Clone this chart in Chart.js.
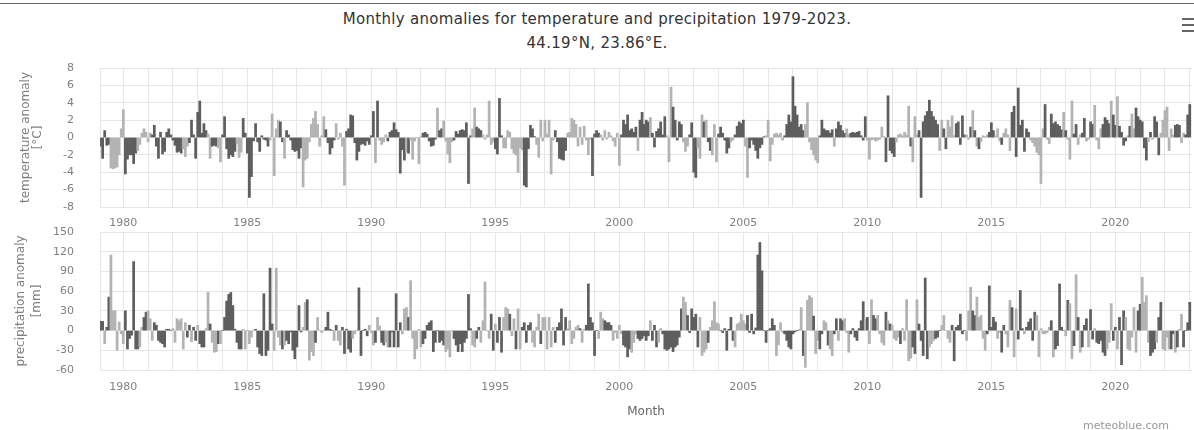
<!DOCTYPE html>
<html lang="en">
<head>
<meta charset="UTF-8" />
<title>Monthly anomalies for temperature and precipitation 1979-2023</title>
<script src="https://cdn.jsdelivr.net/npm/chart.js"></script>
<style>
  html, body { margin: 0; padding: 0; background: #fff; }
  body {
    width: 1194px; height: 430px; position: relative; overflow: hidden;
    font-family: 'DejaVu Sans', sans-serif;
  }
  #frame { position: absolute; left: 0; top: 3px; width: 1194px; border-top: 1px solid #666; }
  #title {
    position: absolute; left: 0; top: 7px; width: 1194px;
    text-align: center; color: #333; font-size: 15px; line-height: 24px; letter-spacing: 0.3px;
  }
  #menu { position: absolute; left: 1182px; top: 18px; width: 12px; }
  #menu span { display: block; height: 2px; background: #666; margin-bottom: 4px; }
  .panel { position: absolute; left: 0; width: 1194px; }
  #credit { position: absolute; left: 1083px; top: 419px; font-size: 11px; color: #999; }
</style>
</head>
<body>
  <div id="frame"></div>
  <div id="title">Monthly anomalies for temperature and precipitation 1979-2023.<br>44.19°N, 23.86°E.</div>
  <div id="menu"><span></span><span></span><span></span></div>
  <div class="panel" style="top:60px;height:175px;"><canvas id="tempChart" width="1194" height="175"></canvas></div>
  <div class="panel" style="top:225px;height:205px;"><canvas id="precChart" width="1194" height="205"></canvas></div>
  <div id="credit">meteoblue.com</div>

<script>
// monthly values, Jan 1979 .. Dec 2022, one row per year
const firstYear = 1979;
const labelYears = [1980, 1985, 1990, 1995, 2000, 2005, 2010, 2015, 2020];
const tempTicks = [-8, -6, -4, -2, 0, 2, 4, 6, 8];
const precTicks = [-60, -30, 0, 30, 60, 90, 120, 150];

// temperature anomaly [°C]
const tempAnom = [
  -1.0,-2.4,0.8,-0.9,-0.8,-3.5,-3.6,-3.5,-3.4,-2.0,1.0,3.2,     // 1979
  -4.2,-2.5,-2.0,-2.0,-3.0,-1.8,-1.5,-0.8,0.5,1.0,0.6,-0.5,     // 1980
  0.5,0.3,1.4,-1.0,-2.4,0.6,-1.9,-1.6,0.6,1.0,0.3,-0.3,         // 1981
  -0.9,-1.7,-1.6,-1.8,-1.3,-2.2,-1.0,-0.6,2.0,0.3,-2.4,2.9,     // 1982
  4.2,0.5,1.6,0.8,0.4,-2.4,-1.0,-0.9,-1.0,-1.2,-2.8,0.3,        // 1983
  2.4,-1.3,-2.4,-2.0,-2.2,-1.6,-0.7,-2.3,-1.7,2.2,0.5,-1.8,     // 1984
  -6.9,-4.5,-0.4,1.6,-0.5,-1.6,0.2,-0.2,-0.3,-1.0,-0.3,2.7,     // 1985
  -4.4,1.0,2.0,1.8,-0.5,-2.4,0.8,0.3,-0.3,-1.4,-1.6,-1.5,       // 1986
  -2.4,-1.2,-5.7,-2.6,-2.4,-0.5,1.5,2.2,3.0,1.5,-1.0,0.2,       // 1987
  2.4,0.9,-0.6,-1.9,-1.2,-0.3,1.6,-0.2,0.5,-1.0,-5.5,0.7,       // 1988
  1.0,2.6,2.5,-0.6,-2.6,-1.6,-0.8,-0.7,-0.9,-0.4,-0.8,0.2,      // 1989
  3.0,-2.9,4.2,-0.3,-0.8,-0.5,0.3,-0.4,0.6,0.8,1.7,0.9,         // 1990
  0.6,-4.1,-1.4,-2.6,-1.7,-1.8,-0.3,-2.5,-0.4,0.0,-3.0,0.1,     // 1991
  0.5,0.6,0.4,-0.4,-1.0,-0.9,-0.2,3.4,0.8,1.0,1.9,-0.4,         // 1992
  -1.9,-2.9,-0.5,-0.3,0.7,0.4,0.8,0.9,0.8,1.7,-5.3,0.2,         // 1993
  1.0,3.4,1.2,1.0,0.8,0.3,-0.2,0.3,4.2,-0.8,-0.5,-1.3,          // 1994
  -1.9,4.5,0.2,-1.2,-1.2,0.8,0.6,-1.3,-1.8,-2.0,-4.0,-1.2,      // 1995
  -1.4,-5.5,-5.7,-1.3,1.4,1.0,0.1,-0.8,-2.3,2.0,-0.4,2.0,       // 1996
  0.4,2.0,-4.2,-0.3,0.8,-0.5,-2.4,-2.5,-2.6,-1.5,0.5,0.6,       // 1997
  2.2,2.0,1.5,-1.0,1.2,-0.8,1.3,-0.3,-2.0,-0.2,-4.4,0.4,        // 1998
  0.8,0.5,0.3,-0.3,0.8,-0.2,0.6,0.2,-0.4,-1.0,0.5,-3.2,         // 1999
  0.3,2.0,1.5,2.6,0.8,1.0,0.6,1.2,-1.5,2.0,2.9,1.5,             // 2000
  2.0,1.8,2.3,0.5,-1.1,0.7,1.0,1.8,0.3,2.4,0.2,-2.8,            // 2001
  5.8,3.5,2.0,-0.3,1.8,1.5,-0.5,-1.6,-1.0,0.3,1.7,-4.0,         // 2002
  -4.6,-1.2,-2.4,2.6,1.8,2.0,-0.5,-1.5,-2.0,1.5,-2.8,0.4,       // 2003
  1.2,0.5,-0.3,-1.8,-1.2,-0.5,-0.3,0.3,1.3,1.8,1.6,2.0,         // 2004
  -1.0,-4.6,-1.2,-0.3,-0.8,-1.5,-2.4,-1.2,-0.8,0.1,0.2,2.0,     // 2005
  -2.7,-0.8,0.4,0.5,0.3,0.5,-0.3,0.2,1.5,2.6,1.8,7.0,           // 2006
  3.6,2.6,1.2,1.5,0.8,1.5,4.0,-0.5,-1.4,-2.0,-2.6,-2.9,         // 2007
  0.2,2.0,1.0,0.8,0.8,0.5,0.9,-1.0,1.0,1.8,1.4,0.8,             // 2008
  0.5,1.0,0.4,0.5,0.6,0.5,0.6,0.7,0.2,-0.3,2.4,-0.3,            // 2009
  -2.5,-0.3,-0.2,-0.4,-0.3,-0.2,1.2,0.1,-2.8,4.8,-1.5,-1.8,     // 2010
  -2.2,-0.5,0.3,0.4,0.2,0.6,0.3,3.6,-1.0,-2.8,2.4,0.3,          // 2011
  0.8,-6.9,1.8,2.5,3.0,4.3,3.0,2.4,2.0,1.5,-1.5,2.0,            // 2012
  1.0,-1.3,2.0,1.2,2.5,0.2,1.6,1.8,-0.8,2.5,0.3,0.3,            // 2013
  -0.2,1.2,3.1,0.8,-1.0,-1.3,-0.5,0.2,0.1,0.3,0.6,1.7,          // 2014
  0.8,0.2,1.0,-0.4,-0.8,0.5,1.0,0.3,-1.5,2.9,3.6,-2.2,          // 2015
  5.7,1.4,2.0,-1.6,1.0,0.6,-0.3,-0.6,-1.0,-1.7,-2.0,-5.3,       // 2016
  1.0,3.8,-0.2,-0.7,2.7,1.6,1.8,1.5,1.3,0.9,2.9,0.8,            // 2017
  -0.2,-2.5,4.2,0.4,1.5,-0.8,0.3,0.5,2.2,-0.4,-0.2,1.8,         // 2018
  1.5,3.7,-0.3,-1.3,1.0,1.5,2.3,2.0,1.6,4.2,2.6,1.4,            // 2019
  4.7,1.3,0.6,-0.9,-0.4,0.2,1.3,2.7,1.0,3.4,2.4,2.0,            // 2020
  1.8,-1.2,-2.6,-0.5,0.6,-0.2,2.4,1.8,-2.0,0.5,2.0,3.1,         // 2021
  3.5,-1.5,1.0,0.3,1.4,1.5,1.4,-0.6,0.5,0.3,2.6,3.8             // 2022
];
// D = dark bar group, L = light bar group
const tempGroup = [
  'DDDDDLLLLLLL','DDDDDDLLLLLL','LDDDDDDDDDDD','DDDDLLLDDDDD','DDDDLLDDDLLD',
  'DDDDDDLLLDDD','DDDDDDDDDDLL','LLLDDLDDDDDD','DDLLLLLLLLLL','LDDDDDLLLLLD',
  'DDDDDDDDDDDD','DLDLLLLDDDDD','DDDDLDLLLLLL','DDDDDDDLDDLL','LLLDDDDDDDDD',
  'LLDDDLLLLLLD','DDDLLLLLLLLL','LDDDDDDLLLLL','LLLLDDDDDDLL','LLLLLLLLLLDD',
  'DDLLLLLLLLLL','DDDDDDDDLDDD','DDLDDDDDDDLL','LDDDDDLLLDDD','DLLLDLDDLLLD',
  'DDDDDLLDDDDD','LLDDDDDDDDLL','LLLLLLLDDDDD','DDDDDLLLLLLL','DDDDDDDLDDDD',
  'DLLDDDDDDDDL','LLLLLLLLDDDD','DLLLLLLLDLLL','DDDDDDDDDDLL','DDLLLLDDDDDL',
  'LDLDLDLLLLDD','DLLLDLLLLDDD','DDDDDDLLLLLL','LDLLDDDDDDLD','LLLDDLLDDLLD',
  'DLLLLDDDDLDD','LDDDDLDLLDDD','DDDLDLDDDLLL','LLLLDDDLLDDD'
];

// precipitation anomaly [mm]
const precAnom = [
  14,14,-20,5,51,115,30,30,-30,13,-5,-20,          // 1979
  30,-28,-12,-7,105,-28,-28,-25,5,20,28,30,        // 1980
  18,-15,12,8,-15,-18,-20,-25,2,2,0,3,             // 1981
  -18,18,15,18,-28,12,-10,8,-17,5,-15,8,           // 1982
  -20,-25,-25,3,58,10,-18,-33,-32,-20,-20,0,       // 1983
  20,45,55,58,38,2,-18,-28,-28,2,-28,0,            // 1984
  -20,-10,0,2,-25,-35,-38,56,-38,-30,95,10,        // 1985
  -30,95,-10,-22,-28,-22,-15,-20,-2,-30,-43,-25,   // 1986
  38,-2,5,43,47,-45,-32,-38,-18,20,0,-3,           // 1987
  0,5,28,2,0,-15,8,-15,-22,5,-35,2,                // 1988
  -28,-33,-12,-5,0,65,-38,0,2,-8,8,-3,             // 1989
  -22,-18,20,7,-18,-22,-18,-25,-25,-2,-25,56,      // 1990
  -25,12,-5,33,35,20,76,-12,-43,-28,2,-25,         // 1991
  -20,-12,8,12,15,-32,-18,0,-18,-15,-22,-32,       // 1992
  -28,-40,0,-12,-22,-32,-20,-32,-18,-12,55,3,      // 1993
  -22,-25,-12,5,-18,15,74,0,-12,25,-30,10,         // 1994
  -18,20,-33,20,35,33,25,-8,18,-28,33,-28,         // 1995
  5,12,-18,8,12,-18,-25,5,25,-20,20,20,            // 1996
  -28,20,-25,5,-18,5,12,33,-22,20,3,15,            // 1997
  -20,-12,5,8,3,-18,2,8,71,20,12,-38,              // 1998
  0,-12,28,18,15,12,12,8,-15,-3,-12,8,             // 1999
  -5,-22,-25,-40,-28,-33,-18,-5,-12,-15,-12,-8,    // 2000
  -15,-8,15,-15,8,-25,-18,3,-5,-28,-30,-28,        // 2001
  -25,-32,-25,-22,-10,33,51,43,23,-3,33,20,        // 2002
  25,-25,20,-38,-33,-28,-18,5,15,44,12,10,         // 2003
  0,-3,3,-30,2,20,-15,-25,10,12,25,15,             // 2004
  10,23,-3,25,-5,4,115,134,91,0,-18,0,             // 2005
  3,18,8,-38,-22,12,-3,-5,-15,-25,-28,-5,          // 2006
  -2,0,2,35,-38,-56,46,53,50,22,-35,-15,           // 2007
  -28,-5,15,12,-22,-28,-38,-5,18,-15,18,15,        // 2008
  18,-3,-33,-5,3,-10,-15,3,15,44,18,20,            // 2009
  -20,47,23,18,23,-5,-18,-22,28,15,10,8,           // 2010
  -12,-15,-10,-20,3,-15,47,-46,-42,-25,-35,47,     // 2011
  10,-15,-38,80,-43,-25,-20,-15,-12,-10,0,8,       // 2012
  23,0,-12,-18,8,-46,5,8,25,-5,0,-15,              // 2013
  30,66,30,23,51,20,23,-12,-30,-5,68,5,            // 2014
  20,13,-12,-3,-33,8,-5,-25,46,35,-40,33,          // 2015
  -13,61,3,-5,5,13,18,-15,28,23,-40,3,             // 2016
  -5,-5,-3,5,15,-40,-28,-23,71,5,0,-8,             // 2017
  46,41,-43,-23,85,20,-33,-25,8,18,-25,32,         // 2018
  -13,3,-18,-20,-15,-33,-38,-28,-18,41,-15,5,      // 2019
  -28,20,-52,30,20,-28,-30,-10,35,-33,30,40,       // 2020
  81,43,53,-18,-38,-33,-28,-18,20,43,-28,-30,      // 2021
  -10,-28,-28,-5,-33,-25,2,25,-25,0,12,43          // 2022
];
const precGroup = [
  'DDLDDLLLLLLL','DDDDDDDLLDDL','LLDDDDDDDDDL','LLLLLLDDLDDL','DDDLLDLLLDLD',
  'DDDDDDDDDLLL','LLLDDDDDDDDD','LLLLDLDDDDDD','DDLLDLLLDLLL','LDDDDLDLLDDD',
  'DDLLLDDDDDLL','LDLLDDLLDDDD','DDLLLDLLLLLL','DDDDDDDDDDDL','LLLDDDDDDDDD',
  'LLDDLLLLLDDL','DDDLLLDLLDLL','DDDDDLLLLDLL','LLLLDDDDDDLL','LLLLDLLDDDDD',
  'DLLLDDDDLLLL','LDDDDLLLDDDD','DDLDDDLLDDDD','DDDDDDLLDDDD','DDLLLLDLLLLL',
  'DDDDDDDLLLLL','LDDDDDDDDDDD','DDDLLLLDDDDD','DDLLDLLLLDLL','DDLLDLLDDLDD',
  'LLLDDDDDDDLD','LLDDLLLLDLDL','LLLDLLLLLDDL','DDDDDLLLDDDL','LLLLDDDDDDDL',
  'LLDDLLLLLDDD','DDLLDDLLLDLL','DDDLDDDDDLLL','LLLLDLDDDDDL','DLLDLDLDDDLD',
  'DLDDDDDLLLDD','LDDDLLLLLLDD','LLLLDDDLDDLL','LLDDLDLLDDDD'
];

const DARK = '#5e5e5e';
const LIGHT = '#b3b3b3';
const GRID = '#e6e6e6';
const TEXT = '#808080';
const CLEAR = 'rgba(0,0,0,0)';

const gridYears = [];
for (let y = firstYear + 1; y <= 2023; y++) gridYears.push(y);

function toPoints(values) {
  return values.map((v, i) => ({ x: firstYear + (i + 1) / 12, y: v }));
}

function makePanel(id, values, groups, yRange, yTicks, yTitle, opts) {
  const tones = groups.join('');
  const ctx = document.getElementById(id).getContext('2d');
  return new Chart(ctx, {
    type: 'bar',
    data: {
      datasets: [{
        data: toPoints(values),
        backgroundColor: c => tones[c.dataIndex] === 'L' ? LIGHT : DARK,
        borderWidth: 0,
        barPercentage: 1,
        categoryPercentage: 1
      }]
    },
    options: {
      responsive: false,
      animation: false,
      devicePixelRatio: 1,
      layout: { padding: { top: opts.top, right: 2, left: 0, bottom: 0 } },
      plugins: { legend: { display: false }, tooltip: { enabled: false } },
      scales: {
        x: {
          type: 'linear',
          offset: false,
          min: 1979.06,
          max: 2023.09,
          afterBuildTicks: s => { s.ticks = gridYears.map(v => ({ value: v })); },
          afterFit: s => { s.height = opts.xHeight; },
          ticks: {
            autoSkip: false, maxRotation: 0, padding: 0, color: TEXT,
            font: { family: 'DejaVu Sans', size: 11 },
            callback: v => labelYears.includes(v) ? String(v) : ''
          },
          grid: { color: GRID, offset: false, drawTicks: true, tickLength: opts.xTick, tickColor: CLEAR },
          border: { display: false },
          title: {
            display: !!opts.xTitle, text: opts.xTitle || '', color: '#666',
            font: { family: 'DejaVu Sans', size: 12 }, padding: { top: 0, bottom: 11 }
          }
        },
        y: {
          min: yRange[0],
          max: yRange[1],
          afterBuildTicks: s => { s.ticks = yTicks.map(v => ({ value: v })); },
          afterFit: s => { s.width = 100; },
          ticks: { autoSkip: false, padding: 0, color: TEXT, font: { family: 'DejaVu Sans', size: 11 } },
          grid: { color: GRID, drawTicks: true, tickLength: 26, tickColor: CLEAR },
          border: { color: GRID },
          title: {
            display: true, text: yTitle, color: TEXT,
            font: { family: 'DejaVu Sans', size: 12, lineHeight: opts.titleLine },
            padding: { top: opts.titlePad, bottom: 0 }
          }
        }
      }
    }
  });
}

makePanel('tempChart', tempAnom, tempGroup, [-8, 8], tempTicks,
  ['temperature anomaly', '[°C]'],
  { top: 8, xHeight: 28, xTick: 10, titleLine: 1.0, titlePad: 20 });

makePanel('precChart', precAnom, precGroup, [-60, 150], precTicks,
  ['precipitation anomaly', '[mm]'],
  { top: 7, xHeight: 60, xTick: 11, titleLine: 1.4, titlePad: 12, xTitle: 'Month' });
</script>
</body>
</html>
